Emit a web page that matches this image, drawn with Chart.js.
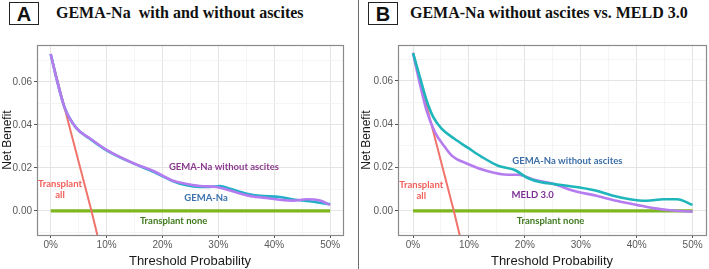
<!DOCTYPE html>
<html>
<head>
<meta charset="utf-8">
<script src="https://cdn.jsdelivr.net/npm/chart.js@4/dist/chart.umd.min.js"></script>
<style>
  html,body{margin:0;padding:0;background:#fff;}
  body{width:709px;height:269px;position:relative;overflow:hidden;font-family:"Liberation Sans",Arial,sans-serif;}
  .panel{position:absolute;top:0;height:269px;}
  .tag{position:absolute;top:2px;width:28px;height:21px;border:1.6px solid #222;font:bold 20px "Liberation Sans",Arial,sans-serif;color:#111;text-align:center;line-height:22px;}
  .title{position:absolute;top:4px;font:bold 16px "Liberation Serif","Times New Roman",serif;color:#111;white-space:pre;}
  .sep{position:absolute;left:358px;top:0;width:1px;height:269px;background:#6e6e6e;}
</style>
</head>
<body>
<div class="tag" style="left:9px;">A</div>
<div class="title" style="left:56px;">GEMA-Na  with and without ascites</div>
<div class="tag" style="left:368px;">B</div>
<div class="title" style="left:410px;">GEMA-Na without ascites vs. MELD 3.0</div>
<div class="sep"></div>
<div class="panel" style="left:0;width:355px;"><canvas id="cA" width="355" height="269"></canvas></div>
<div class="panel" style="left:355px;width:354px;"><canvas id="cB" width="354" height="269"></canvas></div>
<script>
// ---- data (threshold probability in %, net benefit) ----
const xTicks = [0, 5, 10, 15, 20, 25, 30, 35, 40, 45, 50];
const yTicks = [-0.01, 0, 0.01, 0.02, 0.03, 0.04, 0.05, 0.06, 0.07];

const allX = [0, 3, 7.3, 8.4];
const allY = [0.073, 0.0428, 0, -0.0118];
const noneX = [0, 50];
const noneY = [0, 0];

// Panel A
const aGemaX = [0, 1, 2.5, 4.6, 7, 10, 14.8, 18.4, 21.9, 24.3, 26.7, 28.5, 30.3, 32.1, 35.1, 37.4, 41, 43.4, 47, 50];
const aGemaY = [0.073, 0.062, 0.048, 0.0385, 0.0336, 0.0282, 0.0221, 0.0182, 0.0138, 0.0119, 0.0112, 0.0112, 0.0116, 0.0103, 0.0080, 0.0070, 0.0065, 0.0053, 0.0043, 0.0031];
const aNoAscX = [0, 1, 2.5, 4.6, 7, 10, 14.8, 18.4, 21.9, 23.7, 26.7, 29.7, 32.7, 36.2, 38, 41, 43.4, 45.8, 48.2, 50];
const aNoAscY = [0.073, 0.062, 0.048, 0.0385, 0.0338, 0.0284, 0.0222, 0.0186, 0.0140, 0.0129, 0.0116, 0.0111, 0.0090, 0.0067, 0.0062, 0.0052, 0.0048, 0.0054, 0.0048, 0.0028];

// Panel B
const bGemaX = [0, 1.2, 2.4, 3.6, 5.1, 7.4, 9.8, 12.2, 15.2, 18.2, 20.5, 22.9, 25.3, 29.8, 32.8, 35.8, 38.8, 41.8, 44.8, 47.2, 50];
const bGemaY = [0.0729, 0.062, 0.0512, 0.0434, 0.038, 0.0333, 0.0292, 0.0251, 0.0209, 0.0189, 0.0152, 0.0132, 0.0124, 0.0108, 0.0093, 0.007, 0.0054, 0.0047, 0.0054, 0.0054, 0.0028];
const bMeldX = [0, 1.2, 2.4, 3.9, 5.7, 6.9, 9.8, 13.4, 17, 18.8, 21.8, 25, 28.7, 32.8, 36.4, 40, 43, 46, 50];
const bMeldY = [0.0729, 0.0589, 0.0465, 0.0364, 0.0295, 0.0256, 0.0217, 0.0183, 0.0167, 0.0167, 0.0143, 0.0126, 0.0093, 0.007, 0.0047, 0.0028, 0.0013, 0.0003, -0.0003];

// ---- label anchors (data units) ----
const labelsA = [
  {text: 'GEMA-Na without ascites', x: 31.0, y: 0.0203, color: '#8a3a8e'},
  {text: 'GEMA-Na', x: 27.8, y: 0.0062, color: '#3b72ad'},
  {text: 'Transplant none', x: 22.0, y: -0.0047, color: '#3e7a1e'},
  {text: 'Transplant', x: 1.66, y: 0.0124, color: '#f2605a'},
  {text: 'all', x: 1.66, y: 0.0074, color: '#f2605a'}
];
const labelsB = [
  {text: 'GEMA-Na without ascites', x: 27.6, y: 0.0232, color: '#3c6ea6'},
  {text: 'MELD 3.0', x: 21.4, y: 0.0073, color: '#7a2e91'},
  {text: 'Transplant none', x: 24.6, y: -0.0046, color: '#3e7a1e'},
  {text: 'Transplant', x: 1.47, y: 0.0119, color: '#f2605a'},
  {text: 'all', x: 1.47, y: 0.0070, color: '#f2605a'}
];

const zip = (xs, ys) => xs.map((x, i) => ({x, y: ys[i]}));

const decor = {
  id: 'decor',
  afterDatasetsDraw(chart, args, opts) {
    const {ctx, chartArea: a, scales: {x, y}} = chart;
    ctx.save();
    ctx.font = 'bold 9.5px Lato, "Open Sans", sans-serif';
    ctx.textAlign = 'center';
    ctx.textBaseline = 'middle';
    (opts.items || []).forEach(l => {
      ctx.fillStyle = l.color;
      ctx.fillText(l.text, x.getPixelForValue(l.x), y.getPixelForValue(l.y));
    });
    ctx.strokeStyle = '#8a8a8a';
    ctx.lineWidth = 1.2;
    ctx.strokeRect(Math.round(a.left) + 0.5, Math.round(a.top) + 0.5, Math.round(a.right - a.left), Math.round(a.bottom - a.top));
    ctx.restore();
  }
};

function makeChart(id, cfg) {
  const line = (label, xs, ys, color, w, tension) => ({
    label, data: zip(xs, ys), borderColor: color, borderWidth: w,
    pointRadius: 0, tension: tension, cubicInterpolationMode: tension ? 'monotone' : 'default',
    fill: false, clip: 0
  });
  // Chart.js paints the first dataset last (on top)
  const ds = cfg.series.map(s => line(s.label, s.xs, s.ys, s.color, 2.6, 0.4)).concat([
    line('Transplant all', allX, allY, '#f0736c', 2, 0),
    line('Transplant none', noneX, noneY, '#7db61e', 3.2, 0)
  ]);
  return new Chart(document.getElementById(id), {
    type: 'line',
    data: {datasets: ds},
    plugins: [decor],
    options: {
      responsive: false, animation: false, events: [],
      layout: {padding: {left: 0, top: 45, right: cfg.padRight, bottom: 0}},
      plugins: {legend: {display: false}, tooltip: {enabled: false}, decor: {items: cfg.labels}},
      scales: {
        x: {
          type: 'linear', min: cfg.xMin, max: cfg.xMax,
          afterBuildTicks: s => { s.ticks = xTicks.map(v => ({value: v})); },
          afterFit: s => { s.height = 34; },
          ticks: {
            autoSkip: false, maxRotation: 0, padding: 1,
            color: '#595959', font: {family: '"Liberation Sans", Arial, sans-serif', size: 10},
            callback: v => (v % 10 === 0 ? v + '%' : '')
          },
          grid: {
            color: c => (c.tick && c.tick.value % 10 === 0 ? '#e4e4e4' : '#f2f2f2'),
            lineWidth: c => (c.tick && c.tick.value % 10 === 0 ? 1 : 0.8),
            tickColor: c => (c.tick && c.tick.value % 10 === 0 ? '#555' : 'rgba(0,0,0,0)'),
            tickLength: 3
          },
          border: {display: false},
          title: {display: true, text: 'Threshold Probability', color: '#1a1a1a',
                  font: {family: '"Liberation Sans", Arial, sans-serif', size: 13}, padding: {top: 6, bottom: 0}}
        },
        y: {
          type: 'linear', min: cfg.yMin, max: cfg.yMax,
          afterBuildTicks: s => { s.ticks = yTicks.map(v => ({value: v})); },
          afterFit: s => { s.width = cfg.yWidth; },
          ticks: {
            autoSkip: false, padding: 2,
            color: '#595959', font: {family: '"Liberation Sans", Arial, sans-serif', size: 10},
            callback: v => (Math.round(v * 100) % 2 === 0 ? v.toFixed(2) : '')
          },
          grid: {
            color: c => (c.tick && Math.round(c.tick.value * 100) % 2 === 0 ? '#e4e4e4' : '#f2f2f2'),
            lineWidth: c => (c.tick && Math.round(c.tick.value * 100) % 2 === 0 ? 1 : 0.8),
            tickColor: c => (c.tick && Math.round(c.tick.value * 100) % 2 === 0 ? '#555' : 'rgba(0,0,0,0)'),
            tickLength: 3
          },
          border: {display: false},
          title: {display: true, text: 'Net Benefit', color: '#1a1a1a',
                  font: {family: '"Liberation Sans", Arial, sans-serif', size: 12}, padding: {top: cfg.yTitlePad, bottom: 0}}
        }
      }
    }
  });
}

makeChart('cA', {
  xMin: -2.45, xMax: 52.3, yMin: -0.0112, yMax: 0.0772,
  yWidth: 37, padRight: 12, yTitlePad: 0,
  labels: labelsA,
  series: [
    {label: 'GEMA-Na without ascites', xs: aNoAscX, ys: aNoAscY, color: '#b57cf0'},
    {label: 'GEMA-Na', xs: aGemaX, ys: aGemaY, color: '#22b0c8'}
  ]
});
makeChart('cB', {
  xMin: -2.69, xMax: 52.4, yMin: -0.0111, yMax: 0.0766,
  yWidth: 43, padRight: 3, yTitlePad: 4.5,
  labels: labelsB,
  series: [
    {label: 'GEMA-Na without ascites', xs: bGemaX, ys: bGemaY, color: '#1eb5bb'},
    {label: 'MELD 3.0', xs: bMeldX, ys: bMeldY, color: '#b57cf0'}
  ]
});
</script>
</body>
</html>
